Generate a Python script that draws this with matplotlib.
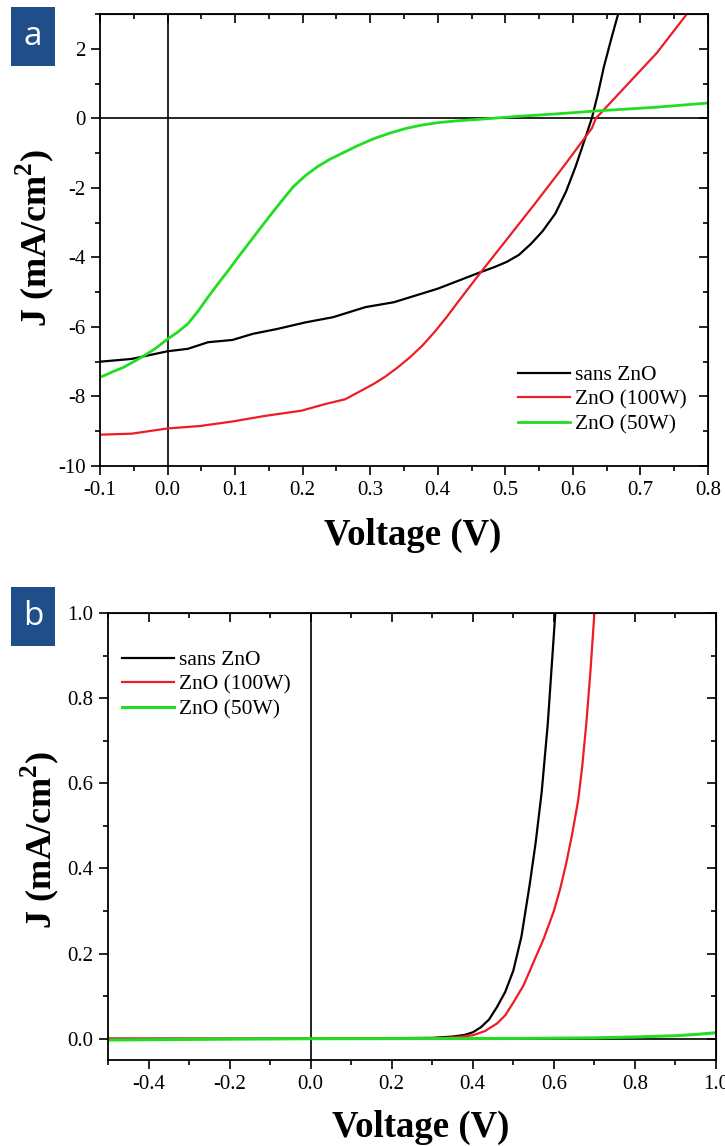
import matplotlib
matplotlib.use("Agg")
import matplotlib.pyplot as plt
from matplotlib.patches import Rectangle
from matplotlib.ticker import MultipleLocator

# ---------------- Data: panel a ----------------
labels = ["sans ZnO", "ZnO (100W)", "ZnO (50W)"]
colors = ["#000000", "#ee1c25", "#22dd22"]

va_black = [-0.1, -0.053, 0.0, 0.03, 0.06, 0.096, 0.126, 0.162, 0.204, 0.245,
            0.293, 0.335, 0.40, 0.464, 0.485, 0.502, 0.52, 0.538, 0.555, 0.574,
            0.59, 0.604, 0.616, 0.628, 0.637, 0.646, 0.657, 0.667]
ja_black = [-7.0, -6.92, -6.70, -6.63, -6.44, -6.375, -6.2, -6.06, -5.87, -5.72,
            -5.43, -5.29, -4.90, -4.42, -4.27, -4.13, -3.93, -3.61, -3.25, -2.74,
            -2.1, -1.39, -0.7, 0.0, 0.7, 1.49, 2.3, 3.0]

va_red = [-0.1, -0.053, 0.0, 0.048, 0.096, 0.144, 0.198, 0.233, 0.263, 0.285,
          0.305, 0.323, 0.341, 0.359, 0.377, 0.395, 0.413, 0.43, 0.443, 0.464,
          0.497, 0.544, 0.586, 0.628, 0.634, 0.664, 0.724, 0.768]
ja_red = [-9.1, -9.07, -8.92, -8.85, -8.72, -8.56, -8.41, -8.22, -8.08, -7.85,
          -7.64, -7.42, -7.16, -6.87, -6.54, -6.15, -5.72, -5.28, -4.95, -4.42,
          -3.61, -2.45, -1.39, -0.29, 0.0, 0.625, 1.875, 2.98]

va_green = [-0.1, -0.08, -0.065, -0.05, -0.035, -0.018, 0.0, 0.015, 0.03, 0.045,
            0.06, 0.075, 0.09, 0.105, 0.12, 0.135, 0.15, 0.168, 0.186, 0.204,
            0.222, 0.24, 0.258, 0.28, 0.306, 0.33, 0.353, 0.375, 0.40, 0.43,
            0.461, 0.514, 0.574, 0.634, 0.724, 0.8]
ja_green = [-7.45, -7.28, -7.16, -7.0, -6.83, -6.62, -6.35, -6.15, -5.91, -5.55,
            -5.14, -4.75, -4.375, -3.98, -3.6, -3.22, -2.84, -2.4, -1.97, -1.65,
            -1.39, -1.18, -1.01, -0.8, -0.58, -0.42, -0.29, -0.2, -0.125, -0.07,
            -0.03, 0.05, 0.125, 0.21, 0.32, 0.44]

# ---------------- Data: panel b ----------------
vb_black = [-0.5, 0.0, 0.3, 0.35, 0.38, 0.4, 0.42, 0.44, 0.46, 0.48, 0.50, 0.52,
            0.54, 0.555, 0.57, 0.585, 0.60, 0.605]
jb_black = [0.0, 0.0, 0.002, 0.005, 0.009, 0.015, 0.027, 0.045, 0.075, 0.11, 0.16,
            0.24, 0.36, 0.46, 0.58, 0.74, 0.95, 1.02]

vb_red = [-0.5, 0.0, 0.3, 0.35, 0.4, 0.43, 0.46, 0.48, 0.5, 0.525, 0.55, 0.575,
          0.6, 0.615, 0.63, 0.645, 0.66, 0.67, 0.68, 0.69, 0.70]
jb_red = [0.0, 0.0, 0.001, 0.003, 0.008, 0.018, 0.036, 0.055, 0.085, 0.125, 0.18,
          0.235, 0.30, 0.35, 0.41, 0.48, 0.56, 0.64, 0.74, 0.86, 1.0]

vb_green = [-0.5, -0.2, 0.0, 0.5, 0.7, 0.8, 0.9, 0.95, 1.0]
jb_green = [-0.003, -0.001, 0.0, 0.0005, 0.002, 0.004, 0.007, 0.01, 0.014]

plt.rcParams['font.family'] = ['Liberation Serif', 'DejaVu Serif']
plt.rcParams['mathtext.fontset'] = 'custom'
plt.rcParams['mathtext.rm'] = 'Liberation Serif'
plt.rcParams['mathtext.bf'] = 'Liberation Serif:bold'

W, H = 725.0, 1146.0
fig = plt.figure(figsize=(7.25, 11.46), dpi=100)

def px_axes(l, t, r, b):
    return [l / W, 1 - b / H, (r - l) / W, (b - t) / H]

def style(ax):
    for s in ax.spines.values():
        s.set_linewidth(1.3)
    ax.tick_params(which='both', direction='out', width=1.2, labelsize=15,
                   top=False, right=False, pad=4)
    ax.tick_params(which='major', length=6.5)
    ax.tick_params(which='minor', length=3.5)
    sec = ax.secondary_xaxis('top')
    sec.tick_params(which='both', direction='in', width=1.2, labeltop=False)
    sec.tick_params(which='major', length=6.5)
    sec.tick_params(which='minor', length=3.5)
    sec.set_xticks(ax.get_xticks())
    sec.set_xticks(ax.xaxis.get_minorticklocs(), minor=True)
    sec.set_xticklabels([])
    secy = ax.secondary_yaxis('right')
    secy.tick_params(which='both', direction='in', width=1.2, labelright=False)
    secy.tick_params(which='major', length=6.5)
    secy.tick_params(which='minor', length=3.5)
    secy.set_yticks(ax.get_yticks())
    secy.set_yticks(ax.yaxis.get_minorticklocs(), minor=True)
    secy.set_yticklabels([])

ylab = r"J (mA/cm$^{\mathbf{2}}$)"
leg_kw = dict(frameon=False, fontsize=15.5, handlelength=2.4, handletextpad=0.25,
              labelspacing=0.22, borderpad=0, borderaxespad=0, loc='upper left')

# Panel a
axa = fig.add_axes(px_axes(100, 14, 708, 466))
axa.plot(va_black, ja_black, color=colors[0], lw=1.6, label=labels[0])
axa.plot(va_red, ja_red, color=colors[1], lw=1.6, label=labels[1])
axa.plot(va_green, ja_green, color=colors[2], lw=2.0, label=labels[2])
axa.axhline(0, color='black', lw=1.2, zorder=1)
axa.axvline(0, color='black', lw=1.2, zorder=1)
axa.set_xlim(-0.1, 0.8)
axa.set_ylim(-10, 3)
axa.xaxis.set_minor_locator(MultipleLocator(0.05))
axa.yaxis.set_minor_locator(MultipleLocator(1))
axa.set_xticks([-0.1, 0.0, 0.1, 0.2, 0.3, 0.4, 0.5, 0.6, 0.7, 0.8])
axa.set_xticklabels(["-0.1", "0.0", "0.1", "0.2", "0.3", "0.4", "0.5", "0.6", "0.7", "0.8"])
axa.set_yticks([-10, -8, -6, -4, -2, 0, 2])
axa.set_yticklabels(["-10", "-8", "-6", "-4", "-2", "0", "2"])
style(axa)
axa.legend(bbox_to_anchor=(518 / W, 1 - 365 / H), bbox_transform=fig.transFigure, **leg_kw)
fig.text(413 / W, 1 - 545 / H, "Voltage (V)", fontsize=26.5, fontweight='bold',
         ha='center', va='baseline')
fig.text(35 / W, 1 - 238 / H, ylab, fontsize=26, fontweight='bold', rotation=90,
         ha='center', va='center')

# Panel b
axb = fig.add_axes(px_axes(108, 613, 716, 1060))
axb.plot(vb_black, jb_black, color=colors[0], lw=1.6, label=labels[0])
axb.plot(vb_red, jb_red, color=colors[1], lw=1.6, label=labels[1])
axb.plot(vb_green, jb_green, color=colors[2], lw=2.2, label=labels[2])
axb.axhline(0, color='black', lw=1.2, zorder=1)
axb.axvline(0, color='black', lw=1.2, zorder=1)
axb.set_xlim(-0.5, 1.0)
axb.set_ylim(-0.05, 1.0)
axb.xaxis.set_minor_locator(MultipleLocator(0.1))
axb.yaxis.set_minor_locator(MultipleLocator(0.1))
axb.set_xticks([-0.4, -0.2, 0.0, 0.2, 0.4, 0.6, 0.8, 1.0])
axb.set_xticklabels(["-0.4", "-0.2", "0.0", "0.2", "0.4", "0.6", "0.8", "1.0"])
axb.set_yticks([0.0, 0.2, 0.4, 0.6, 0.8, 1.0])
axb.set_yticklabels(["0.0", "0.2", "0.4", "0.6", "0.8", "1.0"])
style(axb)
axb.legend(bbox_to_anchor=(122 / W, 1 - 650 / H), bbox_transform=fig.transFigure, **leg_kw)
fig.text(421 / W, 1 - 1137 / H, "Voltage (V)", fontsize=26.5, fontweight='bold',
         ha='center', va='baseline')
fig.text(40 / W, 1 - 840 / H, ylab, fontsize=26, fontweight='bold', rotation=90,
         ha='center', va='center')

# Panel label boxes
for lab, ytop in [("a", 7), ("b", 587)]:
    x0, y0, w, h = 11, ytop, 44, 59
    fig.patches.append(Rectangle((x0 / W, 1 - (y0 + h) / H), w / W, h / H,
                                 transform=fig.transFigure, facecolor='#1f4e8a',
                                 edgecolor='none'))
    fig.text((x0 + w / 2) / W, 1 - (y0 + h / 2) / H, lab, color='white',
             fontsize=24, ha='center', va='center', family=['Open Sans', 'DejaVu Sans'])

fig.savefig("out.png", dpi=100)
